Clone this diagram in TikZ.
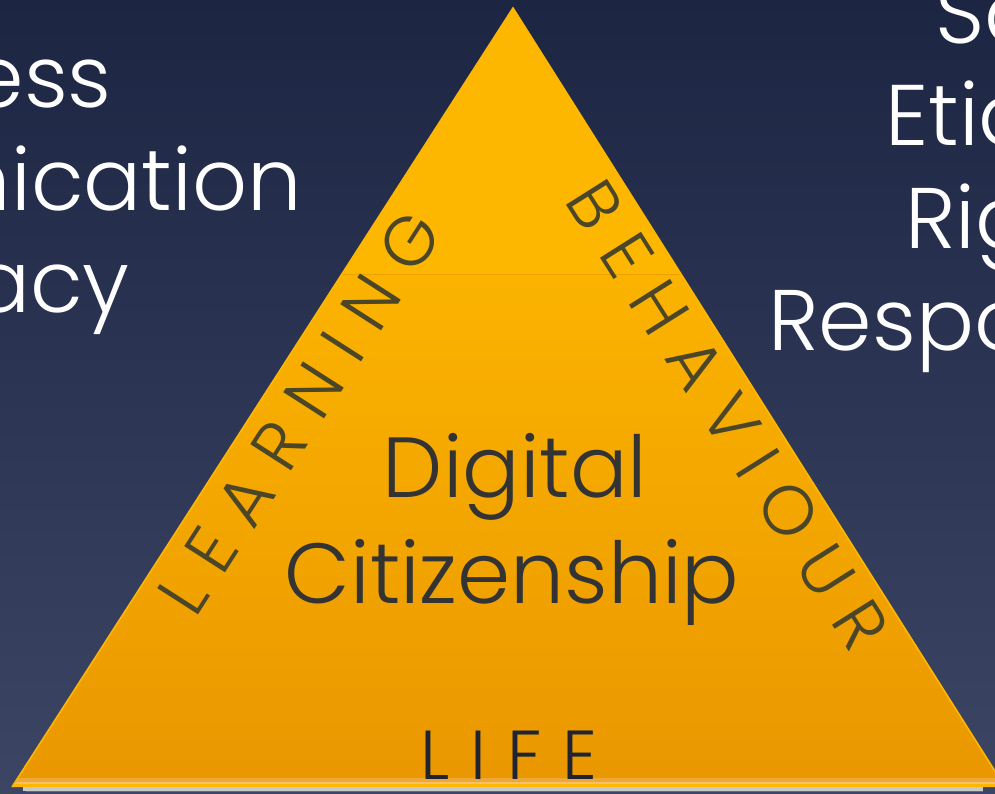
\documentclass[tikz,border=0pt]{standalone}
\usepackage{fontspec}
\setmainfont{Poppins}[UprightFont={* Light}]
\definecolor{bgtop}{HTML}{1C2542}
\definecolor{bgbot}{HTML}{3C4564}
\definecolor{triTop}{HTML}{FDB700}
\definecolor{triMid}{HTML}{FBB300}
\definecolor{triBot}{HTML}{EA9700}
\definecolor{seamC}{HTML}{E9A200}
\definecolor{bandA}{HTML}{EFA735}
\definecolor{bandB}{HTML}{F6C16A}
\definecolor{greyA}{HTML}{C8C8C8}
\definecolor{greyB}{HTML}{6A6A6A}
\definecolor{olive}{HTML}{4A4627}
\definecolor{lifeC}{HTML}{1F2430}
\definecolor{darkT}{HTML}{333333}
\tikzset{
  outertext/.style={text=white, inner sep=0pt, font=\fontsize{64.5}{70}\selectfont},
  centertext/.style={text=darkT, inner sep=0pt, font=\fontsize{64}{70}\selectfont},
  edgetext/.style={text=olive, inner sep=0pt, font=\fontsize{52}{58}\selectfont},
  lifetext/.style={text=lifeC, inner sep=0pt, font=\fontsize{52}{58}\selectfont},
}
\begin{document}
\begin{tikzpicture}[x=0.75pt,y=-0.75pt]
\useasboundingbox (0,0) rectangle (995,793);
\begin{scope}
\clip (0,0) rectangle (995,793);
\shade[top color=bgtop, bottom color=bgbot] (0,0) rectangle (995,793);
\coordinate (apex) at (513,8);
\coordinate (bl) at (12,787);
\coordinate (br) at (1005,787);
\begin{scope}
\clip (apex) -- (bl) -- (br) -- cycle;
\fill[triTop] (0,0) rectangle (1010,274);
\shade[top color=triMid, bottom color=triBot] (0,274) rectangle (1010,787);
\draw[seamC, line width=0.6pt] (0,274) -- (1010,274);
\fill[bandA] (0,778) rectangle (1010,782);
\fill[bandB] (0,782) rectangle (1010,784);
\fill[triTop] (0,784) rectangle (1010,787);
\end{scope}
\draw[triTop, line width=1.2pt, line join=miter] (bl) -- (apex) -- (br);
\fill[greyA] (23,787) rectangle (983,790.7);
\fill[greyB] (26,790.7) rectangle (983,792);
% outer white texts
\node[outertext, anchor=base east] (t1) at (112,107) {ess};
\node[outertext, anchor=base east] (t2) at (302,210) {nication};
\node[outertext, anchor=base east] (t3) at (130,312) {acy};
\node[outertext, anchor=base west] (t4) at (935,43) {Sa};
\node[outertext, anchor=base west] (t5) at (885,145) {Etiq};
\node[outertext, anchor=base west] (t6) at (905,248) {Rig};
\node[outertext, anchor=base west] (t7) at (768,350) {Respo};
% center texts
\node[centertext, anchor=base] (d1) at (515,497) {Digital};
\node[centertext, anchor=base] (d2) at (512,603) {Citizenship};
% edge texts
\node[edgetext, rotate=57.3] (learn) at (300,413) {L\kern.3em E\kern.3em A\kern.3em R\kern.3em N\kern.3em I\kern.3em N\kern.3em G};
\node[edgetext, rotate=-57.7] (beh) at (728,415) {B\kern.3em E\kern.3em H\kern.3em A\kern.3em V\kern.3em I\kern.3em O\kern.3em U\kern.3em R};
\node[lifetext, anchor=base] (life) at (509,779) {L\kern.3em I\kern.3em F\kern.3em E};
\end{scope}
\end{tikzpicture}
\end{document}
